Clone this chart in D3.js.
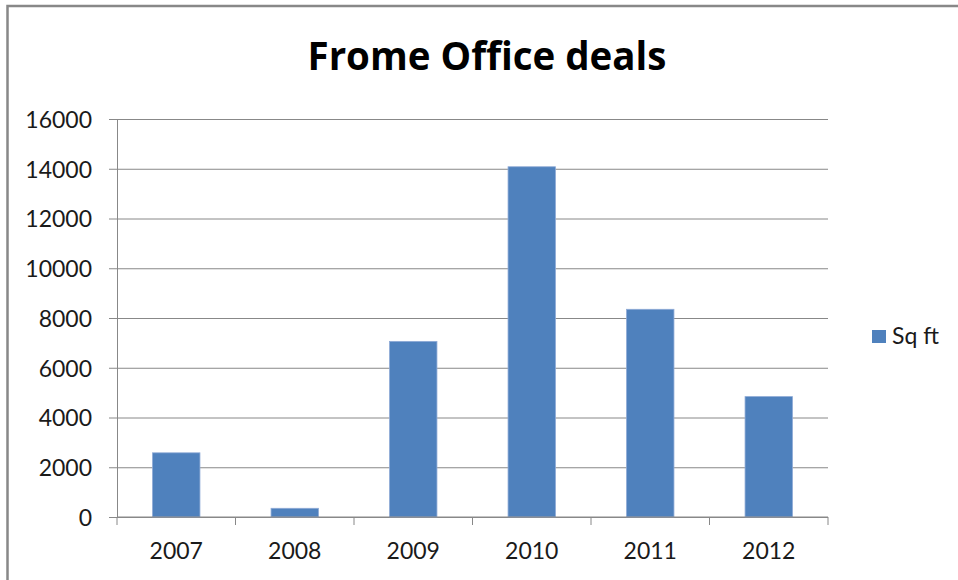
<!DOCTYPE html>
<html>
<head>
<meta charset="utf-8">
<script src="https://cdn.jsdelivr.net/npm/d3@7"></script>
<style>
  body { margin: 0; background: #fff; }
  text { font-family: Lato, "Open Sans", sans-serif; }
</style>
</head>
<body>
<div id="chart"></div>
<script>
// data
var years = ["2007", "2008", "2009", "2010", "2011", "2012"];
var sqft = [2580, 350, 7060, 14080, 8350, 4840];
var yTicks = [0, 2000, 4000, 6000, 8000, 10000, 12000, 14000, 16000];
var seriesName = "Sq ft";
var title = "Frome Office deals";

var W = 958, H = 580;
var margin = { top: 119, right: 130, bottom: 63, left: 117 },
  width = W - margin.left - margin.right,
  height = H - margin.top - margin.bottom;

var svg = d3.select("#chart")
  .append("svg")
  .attr("width", W)
  .attr("height", H);

// outer frame
svg.append("rect")
  .attr("x", 7.5)
  .attr("y", 6)
  .attr("width", W + 20)
  .attr("height", H + 20)
  .attr("fill", "none")
  .attr("stroke", "#888")
  .attr("stroke-width", 2.5);

// title
svg.append("text")
  .attr("x", 487)
  .attr("y", 70)
  .attr("text-anchor", "middle")
  .style("font-family", "'Open Sans', sans-serif")
  .style("font-size", "38.5px")
  .style("font-weight", "bold")
  .style("fill", "#000")
  .text(title);

var g = svg.append("g")
  .attr("transform", "translate(" + margin.left + "," + margin.top + ")");

// scales
var x = d3.scaleBand()
  .domain(years)
  .range([0, width]);

var y = d3.scaleLinear()
  .domain([0, 16000])
  .range([height, 0]);

// horizontal gridlines with tick stubs
g.append("g")
  .attr("class", "grid")
  .call(d3.axisLeft(y)
    .tickValues(yTicks)
    .tickSize(-width - 8)
    .tickFormat("")
  )
  .call(function (s) {
    s.select(".domain").remove();
    s.selectAll(".tick line")
      .attr("x1", -8)
      .attr("x2", width)
      .attr("stroke", "#888");
  });

// bars
g.append("g")
  .selectAll("rect")
  .data(sqft)
  .enter()
  .append("rect")
  .attr("x", function (d, i) { return x(years[i]) + x.bandwidth() * 0.3; })
  .attr("y", function (d) { return y(d); })
  .attr("width", x.bandwidth() * 0.4)
  .attr("height", function (d) { return height - y(d); })
  .attr("fill", "#4f81bd")
  .attr("stroke", "#8eaad6")
  .attr("stroke-width", 0.8);

// y axis
g.append("g")
  .call(d3.axisLeft(y).tickValues(yTicks).tickFormat(d3.format("d"))
    .tickSize(0).tickPadding(25))
  .call(function (s) {
    s.select(".domain").attr("stroke", "#888");
    s.selectAll("text")
      .style("font-size", "23px")
      .style("fill", "#1a1a1a")
      .attr("dy", "0.36em");
  });

// x axis with ticks between categories
var xa = g.append("g")
  .attr("transform", "translate(0," + height + ")");
xa.append("line")
  .attr("x1", 0).attr("x2", width)
  .attr("stroke", "#888");
xa.selectAll(".sep")
  .data(years.concat(["end"]))
  .enter()
  .append("line")
  .attr("x1", function (d, i) { return i < years.length ? x(d) : width; })
  .attr("x2", function (d, i) { return i < years.length ? x(d) : width; })
  .attr("y1", 0).attr("y2", 8)
  .attr("stroke", "#888");
xa.selectAll(".lbl")
  .data(years)
  .enter()
  .append("text")
  .attr("x", function (d) { return x(d) + x.bandwidth() / 2; })
  .attr("y", 42)
  .attr("text-anchor", "middle")
  .style("font-size", "23px")
  .style("fill", "#1a1a1a")
  .text(function (d) { return d; });

// legend
var lg = svg.append("g").attr("transform", "translate(872,330)");
lg.append("rect")
  .attr("width", 14).attr("height", 13)
  .attr("fill", "#4f81bd");
lg.append("text")
  .attr("x", 20)
  .attr("y", 14)
  .style("font-size", "23px")
  .style("fill", "#1a1a1a")
  .text(seriesName);
</script>
</body>
</html>
